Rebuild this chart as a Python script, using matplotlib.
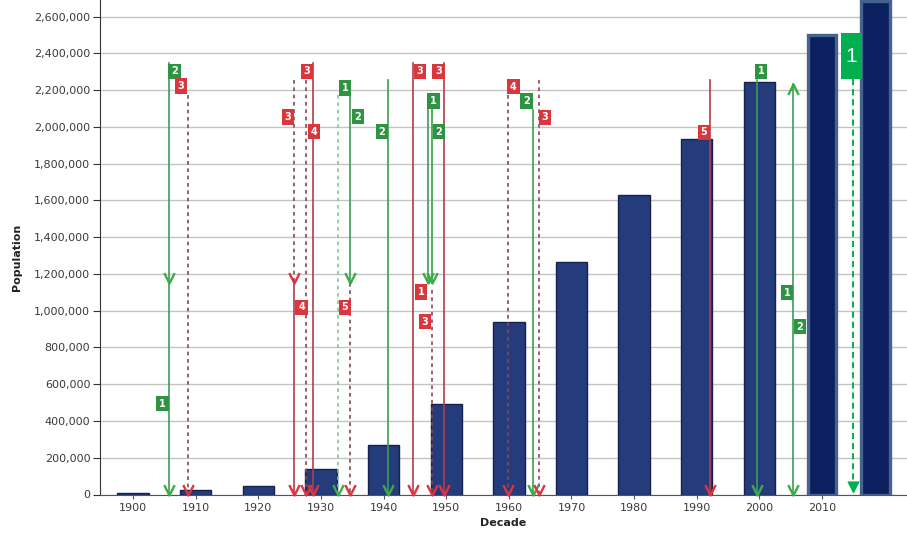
import matplotlib
matplotlib.use("Agg")
from matplotlib import pyplot as plt
from matplotlib.path import Path
from matplotlib.patches import Rectangle
from matplotlib.ticker import FuncFormatter

# census counts per decade
decades = [1900, 1910, 1920, 1930, 1940, 1950, 1960, 1970, 1980, 1990, 2000]
population = [8000, 22000, 44000, 140000, 267000, 494000, 939000,
              1266000, 1630000, 1932000, 2245000]

# latest count and the projection, drawn emphasised
recent_decades = [2010, 2018.5]
recent_population = [2500000, 2685000]

# event runs: year, start level, end level (arrow at the end), group, dashed
event_year = [1905.75, 1905.75, 1908.78, 1925.70, 1925.70, 1927.62, 1928.74,
              1932.73, 1934.64, 1934.64, 1940.71, 1944.70, 1947.10, 1947.73,
              1947.73, 1949.65, 1959.87, 1963.86, 1964.82, 1992.11, 1999.62,
              2005.44, 2005.44]
event_from = [2348000, 1150000, 2174000, 2256000, 1150000, 2256000, 2348000,
              2174000, 2174000, 1150000, 2256000, 2348000, 2174000, 2174000,
              1113000, 2348000, 2174000, 2092000, 2256000, 2256000, 2256000,
              1100000, 1100000]
event_to = [1150000, 0, 0, 1150000, 0, 0, 0,
            0, 1150000, 0, 0, 0, 1150000, 1150000,
            0, 0, 0, 0, 0, 0, 0,
            2234000, 0]
event_group = ['g', 'g', 'r', 'r', 'r', 'r', 'r',
               'g', 'g', 'r', 'g', 'r', 'g', 'g',
               'r', 'r', 'r', 'g', 'r', 'r', 'g',
               'g', 'g']
event_dashed = [False, False, True, True, False, True, False,
                True, False, True, False, False, False, False,
                True, False, True, False, True, False, False,
                False, False]

# numbered tags
tag_year = [1906.63, 1904.71, 1933.84, 1935.92, 1939.75, 1947.97, 1948.85,
            1962.82, 2000.26, 2004.41, 2006.48,
            1907.66, 1924.74, 1927.78, 1928.90, 1926.90, 1933.84, 1945.82,
            1948.77, 1945.98, 1946.62, 1960.74, 1965.77, 1991.16]
tag_value = [2302000, 495000, 2212000, 2057000, 1975000, 2141000, 1975000,
             2141000, 2302000, 1099000, 914000,
             2223000, 2054000, 2302000, 1975000, 1018000, 1018000, 2302000,
             2302000, 1102000, 941000, 2220000, 2052000, 1970000]
tag_text = ['2', '1', '1', '2', '2', '1', '2', '2', '1', '1', '2',
            '3', '3', '3', '4', '4', '5', '3', '3', '1', '3', '4', '3', '5']
tag_group = ['g'] * 11 + ['r'] * 13

# callout for the projection
note_left, note_right = 2013.0, 2016.4
note_bottom, note_top = 2261000, 2511000
note_text = '1'
note_arrow_year = 2014.94
note_arrow_end = 12000

LINE_COLORS = {('r', False): '#b23c4a', ('r', True): '#8a4650',
               ('g', False): '#3d9d52', ('g', True): '#86c592'}
HEAD_COLORS = {'r': '#e2323f', 'g': '#3aab4a'}
TAG_COLORS = {'r': '#d9363e', 'g': '#2e9444'}

V_DOWN = Path([(-0.5, 1.0), (0.0, 0.0), (0.5, 1.0)],
              [Path.MOVETO, Path.LINETO, Path.LINETO])
V_UP = Path([(-0.5, -1.0), (0.0, 0.0), (0.5, -1.0)],
            [Path.MOVETO, Path.LINETO, Path.LINETO])
TRI_DOWN = Path([(-0.5, 1.0), (0.0, 0.0), (0.5, 1.0), (-0.5, 1.0)],
                [Path.MOVETO, Path.LINETO, Path.LINETO, Path.CLOSEPOLY])

fig = plt.figure(figsize=(9.07, 5.36), dpi=100)
ax = fig.add_axes([100 / 907, 41.5 / 536, 807 / 907, 494.5 / 536])

ax.bar(decades, population, width=5, color='#243c7c', edgecolor='#16224c',
       linewidth=1, zorder=2)
ax.bar(recent_decades, recent_population, width=4.6, color='#0c1f5e',
       edgecolor='#46628e', linewidth=2.4, zorder=2)

for x, y0, y1, grp, dashed in zip(event_year, event_from, event_to,
                                   event_group, event_dashed):
    ls = (0, (2.2, 2.2)) if dashed else '-'
    ax.plot([x, x], [y0, y1], color=LINE_COLORS[(grp, dashed)], lw=1.2,
            linestyle=ls, zorder=3)
    ax.plot(x, y1, marker=V_UP if y1 > y0 else V_DOWN, markersize=15,
            markerfacecolor='none', markeredgecolor=HEAD_COLORS[grp],
            markeredgewidth=1.7, zorder=4, clip_on=False)

for x, y, txt, grp in zip(tag_year, tag_value, tag_text, tag_group):
    ax.text(x, y, txt, ha='center', va='center', color='white', fontsize=7,
            fontweight='bold', zorder=5,
            bbox=dict(boxstyle='square,pad=0.3', fc=TAG_COLORS[grp], ec='none'))

# projection callout with dashed pointer
ax.add_patch(Rectangle((note_left, note_bottom), note_right - note_left,
                       note_top - note_bottom, fc='#00b050', ec='none', zorder=5))
ax.text((note_left + note_right) / 2, (note_bottom + note_top) / 2, note_text,
        ha='center', va='center', color='white', fontsize=15,
        family='Liberation Sans', zorder=6)
ax.plot([note_arrow_year, note_arrow_year], [note_bottom, note_arrow_end],
        color='#00b050', lw=1.4, linestyle=(0, (3.2, 2.0)), zorder=5)
ax.plot(note_arrow_year, note_arrow_end, marker=TRI_DOWN, markersize=15,
        color='#00b050', zorder=5, clip_on=False)

ax.set_xlim(1894.73, 2023.56)
ax.set_ylim(0, 2691000)
ax.set_xticks(decades + recent_decades[:1])
ax.set_yticks(range(0, 2600001, 200000))
ax.yaxis.set_major_formatter(FuncFormatter(lambda v, _: f"{int(v):,}"))

ax.grid(axis='y', color='#c4c4c4', linewidth=1)
ax.set_axisbelow(True)
for side in ('top', 'right'):
    ax.spines[side].set_visible(False)
ax.spines['left'].set_color('#333333')
ax.spines['bottom'].set_color('#555555')
ax.tick_params(axis='y', labelsize=8, labelcolor='#3a3a3a', length=5, pad=2,
               color='#333333')
ax.tick_params(axis='x', labelsize=8, labelcolor='#3a3a3a', length=3, pad=3,
               color='#555555')

ax.set_xlabel('Decade', fontsize=8, fontweight='bold', color='#222222',
              labelpad=4)
ax.set_ylabel('Population', fontsize=8, fontweight='bold', color='#222222')
ax.yaxis.set_label_coords(-0.097, 0.48)

fig.savefig('out.png', dpi=100)
